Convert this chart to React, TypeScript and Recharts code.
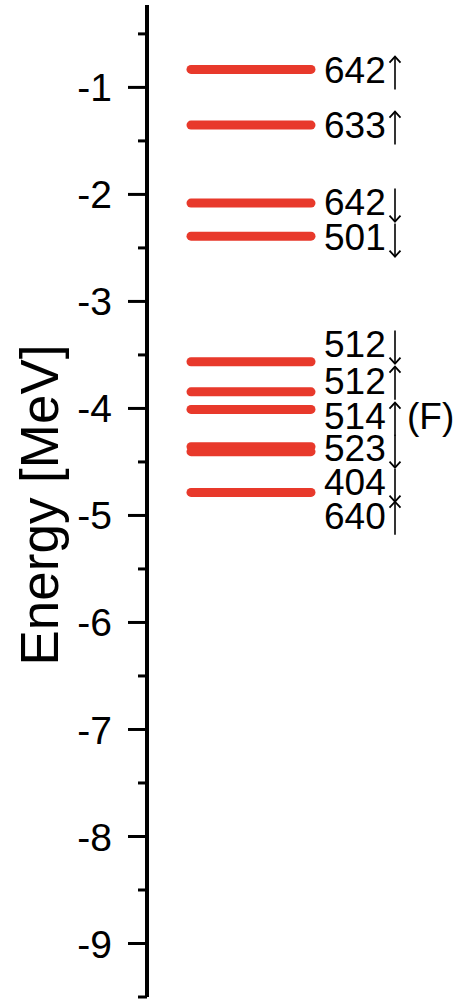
import React from 'react';
import { ComposedChart, Line, Scatter, XAxis, YAxis } from 'recharts';

// single-particle levels (MeV)
const levelE = [-0.832, -1.352, -2.081, -2.39, -3.564, -3.845, -4.009, -4.357, -4.404, -4.785];

// Nilsson labels and where they sit on the energy axis
const labelNum = ['642', '633', '642', '501', '512', '512', '514', '523', '404', '640'];
const labelSpin = ['up', 'up', 'down', 'down', 'down', 'up', 'up', 'down', 'down', 'up'];
const labelNote = ['', '', '', '', '', '', '(F)', '', '', ''];
const labelE = [-0.838, -1.352, -2.072, -2.399, -3.399, -3.736, -4.072, -4.371, -4.689, -4.998];

const majorTicks = [-9, -8, -7, -6, -5, -4, -3, -2, -1];
const minorTicks = [-9.5, -8.5, -7.5, -6.5, -5.5, -4.5, -3.5, -2.5, -1.5, -0.5];

const FONT = '"Liberation Sans", Arial, sans-serif';
const RED = '#e8392b';
const BAR_X = [44, 164];
const LABEL_X = 177;

const AxisTick = (props: any) => {
  const { x, y, payload } = props;
  const v = payload.value;
  const major = Number.isInteger(v);
  return (
    <g>
      <line x1={x - (major ? 19 : 9)} x2={x} y1={y} y2={y} stroke="#000" strokeWidth={3} />
      {major && (
        <text x={x - 35} y={y} dy="0.36em" textAnchor="end" fontSize={39} fontFamily={FONT} fill="#000">
          {v}
        </text>
      )}
    </g>
  );
};

const LabelShape = (props: any) => {
  const { cx, cy, payload } = props;
  const ax = cx + 71;
  const top = cy - 13.5;
  const bot = cy + 19.5;
  const tip = payload.spin === 'up' ? top : bot;
  const s = payload.spin === 'up' ? 1 : -1;
  return (
    <g>
      <text x={cx} y={cy} dy="0.36em" fontSize={37} fontFamily={FONT} fill="#000">
        {payload.num}
      </text>
      <line x1={ax} x2={ax} y1={top} y2={bot} stroke="#000" strokeWidth={1.6} />
      <polyline
        points={`${ax - 5.5},${tip + s * 6} ${ax},${tip} ${ax + 5.5},${tip + s * 6}`}
        fill="none"
        stroke="#000"
        strokeWidth={1.8}
      />
      {payload.note && (
        <text x={cx + 83} y={cy} dy="0.36em" fontSize={37} fontFamily={FONT} fill="#000">
          {payload.note}
        </text>
      )}
    </g>
  );
};

export default function App() {
  const labels = labelNum.map((n, i) => ({
    x: LABEL_X,
    e: labelE[i],
    num: n,
    spin: labelSpin[i],
    note: labelNote[i],
  }));

  return (
    <div style={{ position: 'absolute', left: 0, top: 0 }}>
      <ComposedChart width={459} height={999} margin={{ top: 5, right: 0, bottom: 2, left: 0 }}>
        <XAxis type="number" dataKey="x" domain={[0, 312]} hide />
        <YAxis
          type="number"
          dataKey="e"
          domain={[-9.5, -0.23]}
          allowDataOverflow
          ticks={[...majorTicks, ...minorTicks].sort((a, b) => a - b)}
          interval={0}
          width={147}
          tickSize={0}
          tickMargin={0}
          tickLine={false}
          axisLine={{ stroke: '#000', strokeWidth: 4 }}
          tick={<AxisTick />}
          label={() => (
            <text
              x={58}
              y={505}
              transform="rotate(-90, 58, 505)"
              textAnchor="middle"
              fontSize={53}
              fontFamily={FONT}
              fill="#000"
            >
              Energy [MeV]
            </text>
          )}
        />
        {levelE.map((e, i) => (
          <Line
            key={i}
            data={[{ x: BAR_X[0], e }, { x: BAR_X[1], e }]}
            dataKey="e"
            stroke={RED}
            strokeWidth={9}
            strokeLinecap="round"
            dot={false}
            activeDot={false}
            isAnimationActive={false}
          />
        ))}
        <Scatter data={labels} dataKey="e" shape={<LabelShape />} isAnimationActive={false} />
      </ComposedChart>
    </div>
  );
}
